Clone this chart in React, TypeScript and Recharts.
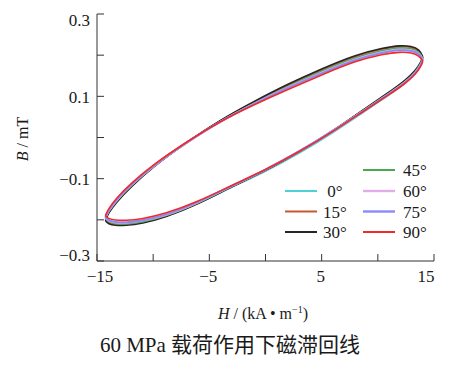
import { LineChart, Line, XAxis, YAxis, Customized } from "recharts";

const FONT = '"Liberation Serif", "Times New Roman", "Noto Sans CJK SC", serif';
const AXIS = "#333";
const INK = "#1a1a1a";

const ANGLES = ["0°", "15°", "30°", "45°", "60°", "75°", "90°"];
const COLORS = ["#4fcfd6", "#c8562e", "#262626", "#4aa84e", "#e2aeea", "#8a8af6", "#f02a2a"];
const WIDTHS = [1.6, 1.6, 1.6, 1.6, 2, 2, 1.6];

const X_TICKS = [-15, -10, -5, 0, 5, 10, 15];
const X_LABELED = [-15, -5, 5, 15];
const Y_TICKS = [-0.3, -0.2, -0.1, 0, 0.1, 0.2, 0.3];

// H values along the upper (descending) and lower (ascending) branches
const UPPER_H = [14.0, 13.7, 13.0, 12.0, 10.5, 8, 5, 2, -1, -4, -7, -10, -12, -13.3, -14.0, -14.25];
const LOWER_H = [-14.25, -14.0, -13.4, -12.5, -11, -9, -6, -3, 0, 3, 6, 9, 11, 12.5, 13.4, 13.85, 14.0];

// B (mT) for each series on the upper branch
const UP_0 = [0.193, 0.209, 0.217, 0.219, 0.213, 0.196, 0.162, 0.125, 0.085, 0.041, -0.012, -0.07, -0.118, -0.155, -0.181, -0.197];
const UP_15 = [0.194, 0.212, 0.22, 0.222, 0.216, 0.199, 0.165, 0.128, 0.087, 0.042, -0.011, -0.07, -0.119, -0.157, -0.182, -0.199];
const UP_30 = [0.196, 0.214, 0.222, 0.224, 0.218, 0.201, 0.167, 0.13, 0.088, 0.043, -0.011, -0.071, -0.12, -0.158, -0.184, -0.202];
const UP_45 = [0.192, 0.208, 0.216, 0.218, 0.212, 0.195, 0.161, 0.124, 0.084, 0.04, -0.012, -0.069, -0.117, -0.154, -0.18, -0.196];
const UP_60 = [0.19, 0.205, 0.213, 0.215, 0.209, 0.192, 0.158, 0.122, 0.083, 0.04, -0.012, -0.069, -0.116, -0.153, -0.179, -0.195];
const UP_75 = [0.189, 0.204, 0.211, 0.213, 0.207, 0.19, 0.156, 0.121, 0.082, 0.04, -0.011, -0.068, -0.115, -0.151, -0.177, -0.193];
const UP_90 = [0.185, 0.199, 0.206, 0.208, 0.203, 0.186, 0.152, 0.117, 0.08, 0.04, -0.01, -0.066, -0.112, -0.148, -0.174, -0.19];

// B (mT) for each series on the lower branch
const LO_0 = [-0.197, -0.205, -0.21, -0.211, -0.206, -0.193, -0.161, -0.12, -0.083, -0.039, 0.011, 0.067, 0.103, 0.132, 0.157, 0.178, 0.193];
const LO_15 = [-0.199, -0.207, -0.212, -0.212, -0.207, -0.194, -0.161, -0.119, -0.08, -0.035, 0.015, 0.072, 0.109, 0.138, 0.162, 0.182, 0.194];
const LO_30 = [-0.202, -0.21, -0.214, -0.214, -0.209, -0.195, -0.162, -0.119, -0.081, -0.035, 0.016, 0.073, 0.11, 0.14, 0.164, 0.184, 0.196];
const LO_45 = [-0.196, -0.205, -0.21, -0.211, -0.206, -0.193, -0.16, -0.118, -0.08, -0.035, 0.015, 0.071, 0.107, 0.136, 0.16, 0.18, 0.192];
const LO_60 = [-0.195, -0.202, -0.207, -0.208, -0.203, -0.191, -0.159, -0.117, -0.079, -0.034, 0.015, 0.07, 0.106, 0.135, 0.158, 0.178, 0.19];
const LO_75 = [-0.193, -0.201, -0.206, -0.207, -0.202, -0.19, -0.158, -0.117, -0.079, -0.034, 0.015, 0.07, 0.105, 0.134, 0.157, 0.177, 0.189];
const LO_90 = [-0.19, -0.197, -0.201, -0.202, -0.198, -0.186, -0.156, -0.116, -0.079, -0.035, 0.014, 0.069, 0.104, 0.132, 0.155, 0.173, 0.185];

const UPPERS = [UP_0, UP_15, UP_30, UP_45, UP_60, UP_75, UP_90];
const LOWERS = [LO_0, LO_15, LO_30, LO_45, LO_60, LO_75, LO_90];

const SERIES = ANGLES.map((name, i) => ({
  name,
  color: COLORS[i],
  width: WIDTHS[i],
  points: [
    ...UPPER_H.map((h, j) => ({ h, b: UPPERS[i][j] })),
    ...LOWER_H.map((h, j) => ({ h, b: LOWERS[i][j] }))
  ]
}));

const fmt = (v: number) => (v < 0 ? "\u2212" + Math.abs(v) : String(v));

function XTick({ x, y, payload }: any) {
  const v = payload.value;
  const dx = v === -15 ? 3 : v === 15 ? -8 : -1;
  return (
    <g>
      <line x1={x} x2={x} y1={y} y2={y - 7} stroke={AXIS} />
      {X_LABELED.includes(v) && (
        <text x={x + dx} y={y + 21} textAnchor="middle" fontFamily={FONT} fontSize={17} fill={INK}>
          {fmt(v)}
        </text>
      )}
    </g>
  );
}

function YTick({ x, y, payload }: any) {
  const v = Math.round(payload.value * 10) / 10;
  const labeled = Math.abs(Math.round(v * 10)) % 2 === 1;
  const dy = v === 0.3 ? 12 : v === -0.3 ? 0 : 6.5;
  return (
    <g>
      <line x1={x} x2={x + 7} y1={y} y2={y} stroke={AXIS} />
      {labeled && (
        <text x={x - 7} y={y + dy} textAnchor="end" fontFamily={FONT} fontSize={17} fill={INK}>
          {fmt(v)}
        </text>
      )}
    </g>
  );
}

function Annotations() {
  const rowY = [170, 191, 211.5, 232];
  return (
    <g fontFamily={FONT} fill={INK}>
      {SERIES.map((s, i) => {
        const right = i >= 3;
        const row = right ? i - 3 : i + 1;
        const x0 = right ? 363 : 285;
        const cy = rowY[row];
        return (
          <g key={s.name}>
            <line x1={x0} x2={x0 + 32} y1={cy} y2={cy} stroke={s.color} strokeWidth={s.width + 0.4} />
            <text x={x0 + (right ? 52 : 50)} y={cy + 6} textAnchor="middle" fontSize={17}>
              {s.name}
            </text>
          </g>
        );
      })}
      <text x={263} y={319} textAnchor="middle" fontSize={16}>
        <tspan fontStyle="italic">H</tspan>
        <tspan> / (kA • m</tspan>
        <tspan dy={-6} fontSize={10}>{"\u22121"}</tspan>
        <tspan dy={6}>)</tspan>
      </text>
      <text x={28} y={139} transform="rotate(-90 28 139)" textAnchor="middle" fontSize={16}>
        <tspan fontStyle="italic">B</tspan>
        <tspan> / mT</tspan>
      </text>
      <text x={230} y={352} textAnchor="middle" fontSize={21}>
        60 MPa 载荷作用下磁滞回线
      </text>
    </g>
  );
}

export default function App() {
  return (
    <div style={{ position: "absolute", left: 0, top: 0, background: "#fff" }}>
      <LineChart width={473} height={378} margin={{ top: 14, right: 39, bottom: 87, left: 47 }}>
        <XAxis
          type="number"
          dataKey="h"
          domain={[-15, 15]}
          ticks={X_TICKS}
          tickLine={false}
          tickSize={0}
          tickMargin={0}
          axisLine={{ stroke: AXIS }}
          tick={(p: any) => <XTick {...p} />}
          height={30}
          allowDataOverflow
        />
        <YAxis
          type="number"
          domain={[-0.3, 0.3]}
          ticks={Y_TICKS}
          tickLine={false}
          tickSize={0}
          tickMargin={0}
          axisLine={{ stroke: AXIS }}
          tick={(p: any) => <YTick {...p} />}
          width={50}
          allowDataOverflow
        />
        {SERIES.map((s) => (
          <Line
            key={s.name}
            data={s.points}
            dataKey="b"
            name={s.name}
            type="basis"
            stroke={s.color}
            strokeWidth={s.width}
            dot={false}
            isAnimationActive={false}
          />
        ))}
        <Customized component={Annotations} />
      </LineChart>
    </div>
  );
}
